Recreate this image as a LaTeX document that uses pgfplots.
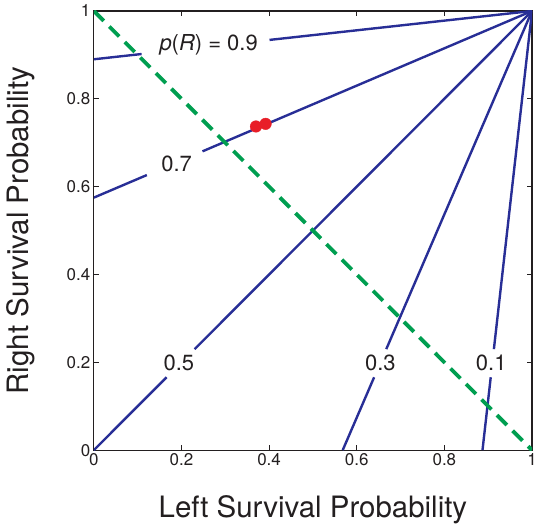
\documentclass[border=0pt]{standalone}
\usepackage{pgfplots}
\pgfplotsset{compat=1.18}
\usepackage{fontspec}
\setmainfont{TeX Gyre Heros}
\definecolor{cblue}{RGB}{40,46,150}
\definecolor{cgreen}{RGB}{0,158,80}
\definecolor{cred}{RGB}{232,30,40}
\definecolor{ctext}{RGB}{35,31,32}
\begin{document}
\begin{tikzpicture}
\useasboundingbox (-94pt,-76pt) rectangle (445pt,451pt);
\begin{axis}[
  at={(0pt,0pt)}, anchor=south west,
  scale only axis, width=439pt, height=440pt,
  xmin=0, xmax=1, ymin=0, ymax=1,
  xtick={0,0.2,0.4,0.6,0.8,1}, ytick={0,0.2,0.4,0.6,0.8,1},
  /pgf/number format/assume math mode=true,
  tick label style={font=\fontsize{17}{19}\selectfont, text=ctext},
  tick align=inside, major tick length=5pt,
  axis line style={line width=1.1pt, ctext},
  every tick/.style={line width=0.9pt, ctext},
  xlabel={Left Survival Probability},
  ylabel={Right Survival Probability},
  label style={font=\fontsize{29.5}{34}\selectfont, text=ctext},
  xlabel style={at={(rel axis cs:0.5,0)}, anchor=center, yshift=-60pt},
  ylabel style={at={(rel axis cs:0,0.5)}, anchor=center, rotate=0, yshift=73pt},
]
% p(R)=0.9
\addplot[cblue, line width=2.4pt] coordinates {(0,0.89) (0.109,0.902)};
\addplot[cblue, line width=2.4pt] coordinates {(0.401,0.9341) (1,1)};
% 0.7
\addplot[cblue, line width=2.4pt] coordinates {(0,0.575) (0.121,0.6264)};
\addplot[cblue, line width=2.4pt] coordinates {(0.248,0.6804) (1,1)};
% 0.5
\addplot[cblue, line width=2.4pt] coordinates {(0,0) (0.166,0.166)};
\addplot[cblue, line width=2.4pt] coordinates {(0.230,0.230) (1,1)};
% 0.3
\addplot[cblue, line width=2.4pt] coordinates {(0.568,0) (0.6397,0.166)};
\addplot[cblue, line width=2.4pt] coordinates {(0.6674,0.23) (1,1)};
% 0.1
\addplot[cblue, line width=2.4pt] coordinates {(0.887,0) (0.9058,0.166)};
\addplot[cblue, line width=2.4pt] coordinates {(0.913,0.23) (1,1)};
% dashed green
\addplot[cgreen, line width=3.8pt, dash pattern=on 14pt off 8pt] coordinates {(0,1) (1,0)};
% red points
\addplot[only marks, mark=*, mark size=5.8pt, cred, mark options={draw=cred, fill=cred}] coordinates {(0.370,0.737) (0.392,0.743)};
% labels
\node[font=\fontsize{22}{26}\selectfont, text=ctext] at (axis cs:0.262,0.923) {\textit{p}(\textit{R}) = 0.9};
\node[font=\fontsize{22}{26}\selectfont, text=ctext] at (axis cs:0.189,0.652) {0.7};
\node[font=\fontsize{22}{26}\selectfont, text=ctext] at (axis cs:0.194,0.198) {0.5};
\node[font=\fontsize{22}{26}\selectfont, text=ctext] at (axis cs:0.654,0.198) {0.3};
\node[font=\fontsize{22}{26}\selectfont, text=ctext] at (axis cs:0.907,0.198) {0.1};
\end{axis}
\end{tikzpicture}
\end{document}
